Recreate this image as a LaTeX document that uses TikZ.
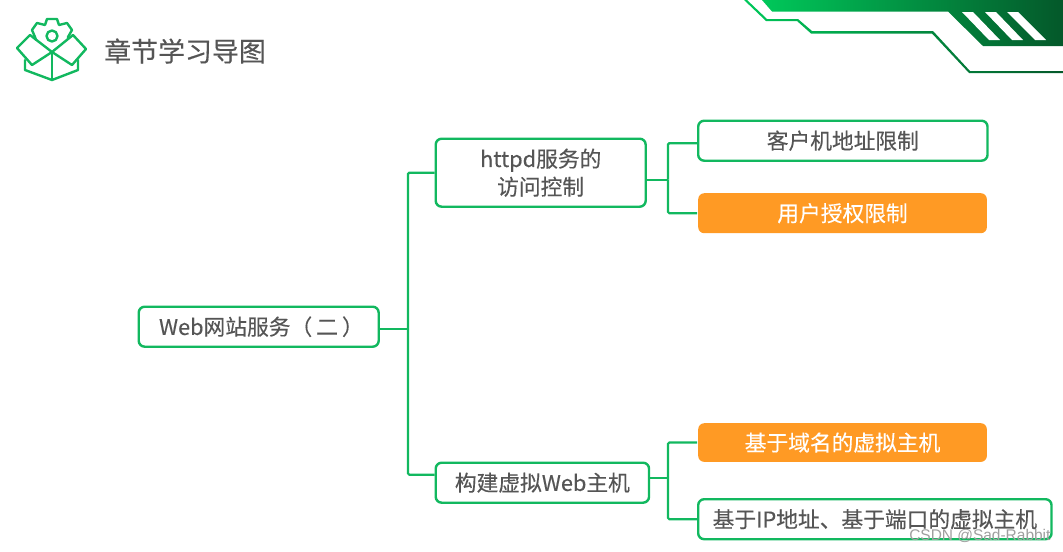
\documentclass[tikz,border=0pt]{standalone}
\usepackage{fontspec}
\setmainfont{Noto Sans CJK SC}[FakeBold=0.25]
\newfontfamily\wmfont{Liberation Sans}
\usetikzlibrary{shadings}
\definecolor{lineg}{HTML}{12B85F}
\definecolor{brightg}{HTML}{00C85A}
\definecolor{orangeb}{HTML}{FF9A24}
\definecolor{textg}{HTML}{555555}
\definecolor{darkg}{HTML}{04582A}
\tikzset{
  x=0.75pt,y=-0.75pt,
  mapbox/.style={draw=lineg,line width=1.8pt,rounded corners=4.5pt,fill=white,text=textg,font=\fontsize{16.3pt}{21pt}\selectfont,align=center,inner sep=0pt,anchor=north west},
  orangebox/.style={mapbox,draw=none,fill=orangeb,text=white},
  conn/.style={draw=lineg,line width=1.7pt,rounded corners=1pt},
  icon/.style={draw=lineg,line width=1.8pt,line join=round,line cap=round},
}
\begin{document}
\begin{tikzpicture}
\useasboundingbox (0,0) rectangle (1063,551);
% banner
\shade[left color=brightg,right color=darkg] (762,0) -- (772,11.5) -- (948,11.5) -- (983,46) -- (1063,46) -- (1063,0) -- cycle;
\fill[white] (962,12) -- (973,12) -- (1000,40) -- (989,40) -- cycle;
\fill[white] (985,12) -- (996,12) -- (1023,40) -- (1012,40) -- cycle;
\fill[white] (1007,12) -- (1018,12) -- (1046,40) -- (1035,40) -- cycle;
\shade[left color=brightg,right color=darkg] (746,-1) -- (767,19) -- (798,19) -- (812,31) -- (933,31) -- (970,71) -- (1063,71) -- (1063,73) -- (969,73) -- (932,33.5) -- (811,33.5) -- (797,21) -- (766,21) -- (744,0) -- cycle;
% icon
\draw[icon] (25,60) -- (25,70) -- (52,80) -- (78,70) -- (78,60);
\draw[icon] (52,52) -- (52,80);
\draw[icon] (52,52) -- (30,35) -- (17,48) -- (32,65) -- cycle;
\draw[icon] (52,52) -- (73,35) -- (86,49) -- (72,65) -- cycle;
\draw[icon] (36,40) -- (35,37) -- (32,30) -- (37,23) -- (45,25) -- (47,19) -- (57,19) -- (59,25) -- (67,23) -- (72,30) -- (68,37) -- (68,39);
\draw[icon] (52,36) circle (5.5);
% title
\node[text=textg,anchor=west,inner sep=0pt,font=\fontsize{20.2pt}{24pt}\selectfont] (title) at (104,51) {章节学习导图};
% nodes
\node[mapbox,minimum width=180pt,minimum height=30pt] (root) at (137.5,305.5) {\kern4pt Web网站服务（\kern3pt 二\kern3pt）};
\node[mapbox,minimum width=157.5pt,minimum height=51pt] (a) at (434.5,137.5) {httpd服务的\\访问控制};
\node[mapbox,minimum width=160pt,minimum height=30pt] (b) at (434.5,461.5) {构建虚拟Web主机};
\node[mapbox,minimum width=217pt,minimum height=30pt] (a1) at (697,119.5) {客户机地址限制};
\node[orangebox,minimum width=216.5pt,minimum height=30pt] (a2) at (697,192) {用户授权限制};
\node[orangebox,minimum width=216.5pt,minimum height=29pt] (b1n) at (697,422) {基于域名的虚拟主机};
\node[mapbox,minimum width=265pt,minimum height=30pt] (b2n) at (697,498) {基于IP地址、基于端口的虚拟主机};
% connectors
\coordinate (x0) at (408,0);
\coordinate (xa) at (668,0);
\coordinate (rs) at ([yshift=-1.9pt]root.east);
\coordinate (as) at ([yshift=-5.2pt]a.east);
\coordinate (bs) at ([yshift=3.7pt]b.east);
\coordinate (bw) at ([yshift=6pt]b.west);
\coordinate (a1w) at ([yshift=-1.9pt]a1.west);
\coordinate (t0) at (rs -| x0);
\coordinate (ta) at (as -| xa);
\coordinate (tb) at (bs -| xa);
\draw[conn] (rs) -- (t0);
\draw[conn] (t0) |- (a.west);
\draw[conn] (t0) |- (bw);
\draw[conn] (as) -- (ta);
\draw[conn] (ta) |- (a1w);
\draw[conn] (ta) |- (a2.west);
\draw[conn] (bs) -- (tb);
\draw[conn] (tb) |- (b1n.west);
\draw[conn] (tb) |- (b2n.west);
% watermark
\node[anchor=west,inner sep=0pt,text=gray!75,font=\wmfont\fontsize{11.6pt}{13pt}\selectfont] (wm) at (909,536) {CSDN @Sad-Rabbit};
\end{tikzpicture}
\end{document}
